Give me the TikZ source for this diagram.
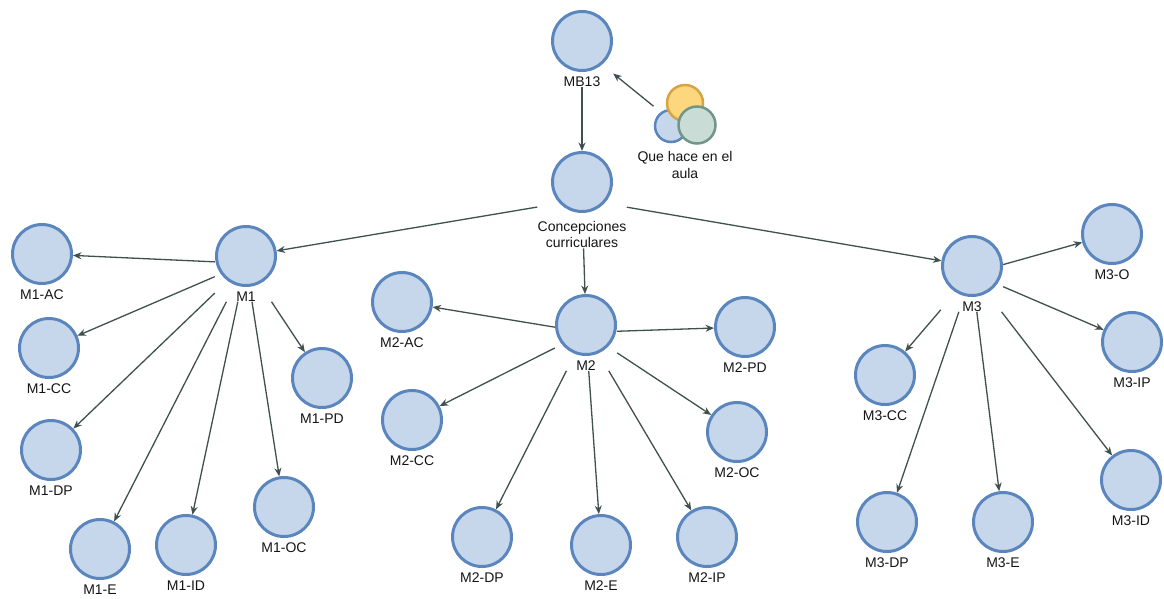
\documentclass[tikz,border=0pt]{standalone}
\usepackage{fontspec}
\setmainfont{Liberation Sans}
\usetikzlibrary{arrows.meta,fit}

\definecolor{nodefill}{HTML}{C6D6EB}
\definecolor{nodeline}{HTML}{5A86BD}
\definecolor{edgecol}{HTML}{3F514E}
\definecolor{yelfill}{HTML}{FDD77E}
\definecolor{yelline}{HTML}{D8A443}
\definecolor{grnfill}{HTML}{CADCD6}
\definecolor{grnline}{HTML}{6F9689}
\definecolor{txt}{HTML}{141414}

\tikzset{
  concept/.style={circle, draw=nodeline, fill=nodefill, line width=3pt,
    minimum size=59pt, inner sep=0pt},
  caption/.style={font=\fontsize{14}{16.5}\selectfont, text=txt,
    inner sep=0pt, align=center},
  group/.style={inner sep=0pt, draw=none},
  link/.style={draw=edgecol, line width=1.3pt,
    -{Stealth[length=8.5pt,width=7pt]}},
  bubble/.style={circle, line width=2.5pt, inner sep=0pt},
}

% circle + caption below + an invisible box around both, named #1
\newcommand\conceptnode[4]{%
  \node[concept] (#1c) at (#2,#3) {};
  \node[caption] (#1l) at (#2,#3+40.5) {#4};
  \node[group, fit=(#1c)(#1l)] (#1) {};
}

\begin{document}
\begin{tikzpicture}[x=1pt,y=-1pt]
\useasboundingbox (0,0) rectangle (1164,598);

% top of the tree
\conceptnode{MB13}{582}{41}{MB13}

\node[concept] (CCc) at (582,182) {};
\node[caption] (CCl) at (582,234.5) {Concepciones\\curriculares};
\node[group, fit=(CCc)(CCl)] (CC) {};

% grouped icon
\node[bubble, draw=nodeline, fill=nodefill, minimum size=32pt] (qb) at (671,126) {};
\node[bubble, draw=yelline, fill=yelfill, minimum size=36pt] (qy) at (685,103) {};
\node[bubble, draw=grnline, fill=grnfill, minimum size=37pt] (qg) at (697,125) {};
\node[caption] (ql) at (685,165) {Que hace en el\\aula};
\coordinate (qbot) at (685,180);
\node[group, fit=(qb)(qy)(qg)(qbot)] (Q) {};

% first branch
\conceptnode{M1}{246}{256}{M1}
\conceptnode{M1AC}{42}{254}{M1-AC}
\conceptnode{M1CC}{49}{348}{M1-CC}
\conceptnode{M1DP}{51}{450}{M1-DP}
\conceptnode{M1E}{100}{549}{M1-E}
\conceptnode{M1ID}{186}{545}{M1-ID}
\conceptnode{M1OC}{284}{507}{M1-OC}
\conceptnode{M1PD}{322}{378}{M1-PD}

% second branch
\conceptnode{M2}{586}{325}{M2}
\conceptnode{M2AC}{402}{302}{M2-AC}
\conceptnode{M2CC}{412}{420}{M2-CC}
\conceptnode{M2DP}{482}{537}{M2-DP}
\conceptnode{M2E}{601}{545}{M2-E}
\conceptnode{M2IP}{707}{537}{M2-IP}
\conceptnode{M2OC}{737}{432}{M2-OC}
\conceptnode{M2PD}{745}{327}{M2-PD}

% third branch
\conceptnode{M3}{972}{266}{M3}
\conceptnode{M3O}{1112}{234}{M3-O}
\conceptnode{M3IP}{1132}{342}{M3-IP}
\conceptnode{M3ID}{1131}{480}{M3-ID}
\conceptnode{M3CC}{885}{375}{M3-CC}
\conceptnode{M3DP}{887}{522}{M3-DP}
\conceptnode{M3E}{1003}{522}{M3-E}

% connectors
\draw[link] (Q) -- (MB13);
\draw[link] (MB13) -- (CCc);
\draw[link] (CC) -- (M1c);
\draw[link] (CC) -- (M2c);
\draw[link] (CC) -- (M3c);

\foreach \t in {M1AC,M1CC,M1DP,M1E,M1ID,M1OC,M1PD}
  \draw[link] (M1) -- (\t c);
\foreach \t in {M2AC,M2CC,M2DP,M2E,M2IP,M2OC,M2PD}
  \draw[link] (M2) -- (\t c);
\foreach \t in {M3O,M3IP,M3ID,M3CC,M3DP,M3E}
  \draw[link] (M3) -- (\t c);
\end{tikzpicture}
\end{document}
